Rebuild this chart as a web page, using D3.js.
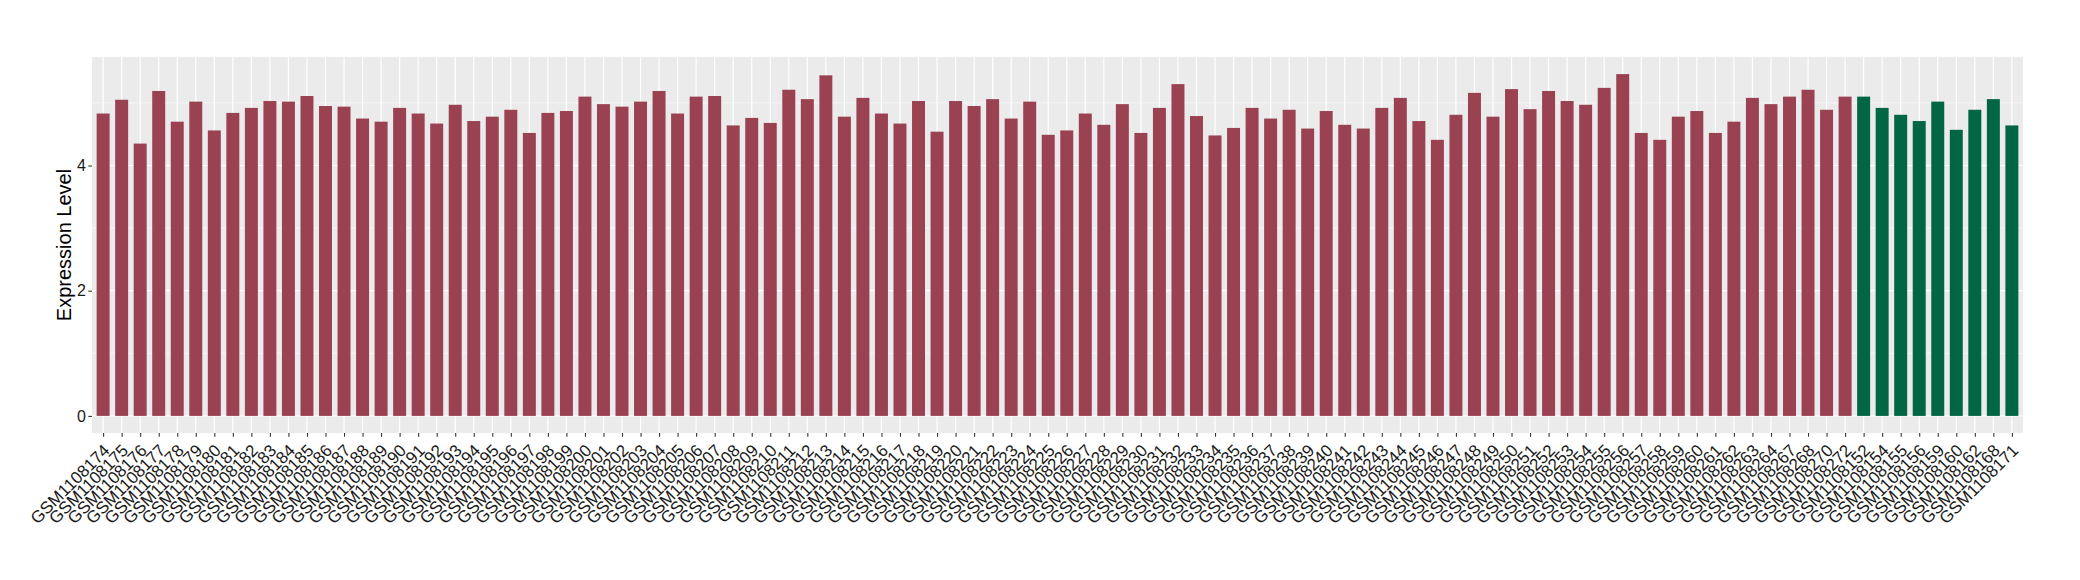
<!DOCTYPE html>
<html>
<head>
<meta charset="utf-8">
<script src="https://cdn.jsdelivr.net/npm/d3@7"></script>
<style>
  html, body { margin: 0; padding: 0; background: #ffffff; }
  svg { display: block; }
</style>
</head>
<body>
<div id="chart"></div>
<script>
// ---- data ----
const samples = [
  "GSM1108174","GSM1108175","GSM1108176","GSM1108177","GSM1108178","GSM1108179","GSM1108180","GSM1108181","GSM1108182","GSM1108183",
  "GSM1108184","GSM1108185","GSM1108186","GSM1108187","GSM1108188","GSM1108189","GSM1108190","GSM1108191","GSM1108192","GSM1108193",
  "GSM1108194","GSM1108195","GSM1108196","GSM1108197","GSM1108198","GSM1108199","GSM1108200","GSM1108201","GSM1108202","GSM1108203",
  "GSM1108204","GSM1108205","GSM1108206","GSM1108207","GSM1108208","GSM1108209","GSM1108210","GSM1108211","GSM1108212","GSM1108213",
  "GSM1108214","GSM1108215","GSM1108216","GSM1108217","GSM1108218","GSM1108219","GSM1108220","GSM1108221","GSM1108222","GSM1108223",
  "GSM1108224","GSM1108225","GSM1108226","GSM1108227","GSM1108228","GSM1108229","GSM1108230","GSM1108231","GSM1108232","GSM1108233",
  "GSM1108234","GSM1108235","GSM1108236","GSM1108237","GSM1108238","GSM1108239","GSM1108240","GSM1108241","GSM1108242","GSM1108243",
  "GSM1108244","GSM1108245","GSM1108246","GSM1108247","GSM1108248","GSM1108249","GSM1108250","GSM1108251","GSM1108252","GSM1108253",
  "GSM1108254","GSM1108255","GSM1108256","GSM1108257","GSM1108258","GSM1108259","GSM1108260","GSM1108261","GSM1108262","GSM1108263",
  "GSM1108264","GSM1108267","GSM1108268","GSM1108270","GSM1108272",
  "GSM1108152","GSM1108154","GSM1108155","GSM1108156","GSM1108159","GSM1108160","GSM1108162","GSM1108168","GSM1108171"
];
const values = [
  4.83,5.05,4.35,5.19,4.70,5.02,4.56,4.84,4.92,5.03,
  5.02,5.11,4.95,4.94,4.75,4.70,4.92,4.83,4.67,4.97,
  4.71,4.78,4.89,4.52,4.84,4.87,5.10,4.98,4.94,5.02,
  5.19,4.83,5.10,5.11,4.64,4.76,4.68,5.21,5.06,5.44,
  4.78,5.08,4.83,4.67,5.03,4.54,5.03,4.95,5.06,4.75,
  5.02,4.49,4.56,4.83,4.65,4.98,4.52,4.92,5.30,4.79,
  4.48,4.60,4.92,4.75,4.89,4.59,4.87,4.65,4.59,4.92,
  5.08,4.71,4.41,4.81,5.16,4.78,5.22,4.90,5.19,5.03,
  4.97,5.24,5.46,4.52,4.41,4.78,4.87,4.52,4.70,5.08,
  4.98,5.10,5.21,4.89,5.10,
  5.10,4.92,4.81,4.71,5.02,4.57,4.89,5.06,4.64
];
const groups = samples.map((s, i) => i < 95 ? "A" : "B");
const groupColors = { A: "#9A4251", B: "#006644" };
const yTicks = [0, 2, 4];
const yMinor = [1, 3, 5];
const yTitle = "Expression Level";

const data = samples.map((s, i) => ({ name: s, value: values[i], group: groups[i] }));

// ---- layout ----
const W = 2080, H = 580;
const panel = { left: 92, right: 2023, top: 57, bottom: 433 };

const svg = d3.select("#chart").append("svg")
  .attr("width", W).attr("height", H);

const n = samples.length;
const unit = (panel.right - panel.left) / (n - 1 + 1.2);
const x = d3.scalePoint()
  .domain(samples)
  .range([panel.left + 0.6 * unit, panel.right - 0.6 * unit]);
const barW = unit * 0.7;

const maxV = d3.max(values);
const y = d3.scaleLinear()
  .domain([-0.05 * maxV, 1.05 * maxV])
  .range([panel.bottom, panel.top]);

// panel background
svg.append("rect")
  .attr("x", panel.left).attr("y", panel.top)
  .attr("width", panel.right - panel.left).attr("height", panel.bottom - panel.top)
  .attr("fill", "#EBEBEB");

// minor horizontal grid
svg.append("g").selectAll("line").data(yMinor).join("line")
  .attr("x1", panel.left).attr("x2", panel.right)
  .attr("y1", d => y(d)).attr("y2", d => y(d))
  .attr("stroke", "#ffffff").attr("stroke-width", 0.6);
// major horizontal grid
svg.append("g").selectAll("line").data(yTicks).join("line")
  .attr("x1", panel.left).attr("x2", panel.right)
  .attr("y1", d => y(d)).attr("y2", d => y(d))
  .attr("stroke", "#ffffff").attr("stroke-width", 1.2);
// vertical grid
svg.append("g").selectAll("line").data(samples).join("line")
  .attr("x1", d => x(d)).attr("x2", d => x(d))
  .attr("y1", panel.top).attr("y2", panel.bottom)
  .attr("stroke", "#ffffff").attr("stroke-width", 1.2);

// bars
svg.append("g").selectAll("rect").data(data).join("rect")
  .attr("x", d => x(d.name) - barW / 2)
  .attr("width", barW)
  .attr("y", d => y(d.value))
  .attr("height", d => y(0) - y(d.value))
  .attr("fill", d => groupColors[d.group]);

// y axis
const yAxis = d3.axisLeft(y).tickValues(yTicks).tickSize(3.7).tickPadding(2.5).tickFormat(d3.format("d"));
const gy = svg.append("g").attr("transform", `translate(${panel.left},0)`).call(yAxis);
gy.select(".domain").remove();
gy.selectAll(".tick line").attr("stroke", "#333333").attr("stroke-width", 1.1);
gy.selectAll(".tick text")
  .attr("font-family", "'Liberation Sans', Arial, sans-serif")
  .attr("font-size", "16px").attr("fill", "#1a1a1a");

// x axis
const xAxis = d3.axisBottom(x).tickSize(3.7).tickFormat("");
const gx = svg.append("g").attr("transform", `translate(0,${panel.bottom})`).call(xAxis);
gx.select(".domain").remove();
gx.selectAll(".tick line").attr("stroke", "#333333").attr("stroke-width", 1.1);
gx.selectAll(".tick text").remove();

// x labels rotated
svg.append("g").selectAll("text").data(samples).join("text")
  .attr("transform", d => `translate(${x(d) - 1},${panel.bottom + 10}) rotate(-45)`)
  .attr("text-anchor", "end")
  .attr("dy", "0.72em")
  .attr("font-family", "'Liberation Sans', Arial, sans-serif")
  .attr("font-size", "17px")
  .attr("fill", "#1a1a1a")
  .text(d => d);

// y title
svg.append("text")
  .attr("transform", `translate(71,${(panel.top + panel.bottom) / 2}) rotate(-90)`)
  .attr("text-anchor", "middle")
  .attr("font-family", "'Liberation Sans', Arial, sans-serif")
  .attr("font-size", "20px")
  .attr("fill", "#000000")
  .text(yTitle);
</script>
</body>
</html>
